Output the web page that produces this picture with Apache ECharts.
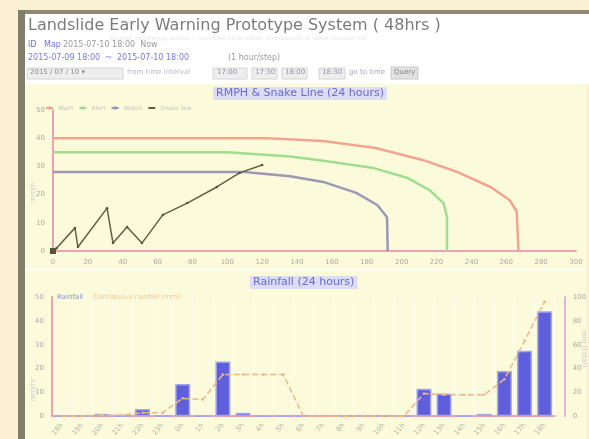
<!DOCTYPE html>
<html>
<head>
<meta charset="utf-8">
<script src="https://cdn.jsdelivr.net/npm/echarts@6/dist/echarts.min.js"></script>
<style>
html,body{margin:0;padding:0;background:#fbf0d4;}
#c{width:589px;height:439px;}
</style>
</head>
<body>
<div id="c"></div>
<script>
// Critical lines: [effective rainfall (mm), rainfall index (mm/h)]
const warnLine    = [[0,40],[123,40],[155,39],[185,36.5],[212,32.3],[232,28],[251,22.7],[262,18],[266,14],[267,0]];
const cautionLine = [[0,35],[100,35],[136,33.5],[155,32],[184,29.4],[203,26],[216,21.6],[224,17],[226,12],[226,0]];
const watchLine   = [[0,28],[110,28],[136,26.5],[155,24.5],[174,20.6],[186,16.3],[191.6,12],[192,0]];
// Snake line for the last 24 hours
const snakeLine = [[0,0],[2,1],[12.6,8.2],[14.3,1.4],[31,15.2],[34.4,2.8],[42.5,8.5],[51,2.8],[63,12.8],[77,17],[94,22.7],[107,27.7],[120,30.5]];

// Hourly rainfall (mm) and continuous rainfall (mm)
const hours = ['18h','19h','20h','21h','22h','23h','0h','1h','2h','3h','4h','5h','6h','7h','8h','9h','10h','11h','12h','13h','14h','15h','16h','17h','18h'];
const hourlyRain = [0,0,1,0,3,0,13.5,0,23,1.5,0,0,0,0,0,0,0,0,11.5,9.5,0,1,19,27.5,44];
const continuousRain = [0,0,1,1,3,3,15,14,35,35,35,35,0,0,0,0,0,0,19,18,18,18,31,63,96];

const snakeTicks = {xMax:300, xStep:20, yMax:50, yStep:10};

const axisPink = '#eaa2b4';
const tickText = {color:'#a9a9a0', fontSize:7, fontFamily:'DejaVu Sans'};

const chart = echarts.init(document.getElementById('c'), null, {renderer:'canvas'});

const g = [];
// page chrome
g.push({type:'rect', z:-20, shape:{x:0,y:0,width:589,height:439}, style:{fill:'#fbf0d4'}});
g.push({type:'rect', z:-19, shape:{x:18,y:10,width:571,height:4}, style:{fill:'#8c8872'}});
g.push({type:'rect', z:-19, shape:{x:18,y:10,width:7,height:429}, style:{fill:'#7f7e6a'}});
g.push({type:'rect', z:-19, shape:{x:25,y:14,width:564,height:70}, style:{fill:'#ffffff'}});
g.push({type:'rect', z:-19, shape:{x:25,y:84,width:561,height:184}, style:{fill:'#fbfbdc'}});
g.push({type:'rect', z:-19, shape:{x:25,y:268,width:561,height:3}, style:{fill:'#fdfdf0'}});
g.push({type:'rect', z:-19, shape:{x:25,y:271,width:561,height:168}, style:{fill:'#fbfbdc'}});

// header texts
g.push({type:'text', left:28, top:18, style:{text:'Landslide Early Warning Prototype System ( 48hrs )', fill:'#7c7c7c', font:'16px "DejaVu Sans"'}});
g.push({type:'text', left:110, top:35, style:{text:'Rainfall monitoring station  ·  real-time observation and forecast of slope disaster risk', fill:'#e6e6e6', font:'6px "DejaVu Sans"'}});
g.push({type:'text', left:28, top:41, style:{text:'ID', fill:'#7070e0', font:'8px "DejaVu Sans"'}});
g.push({type:'text', left:44, top:41, style:{text:'Map', fill:'#7070e0', font:'8px "DejaVu Sans"'}});
g.push({type:'text', left:63, top:41, style:{text:'2015-07-10 18:00  Now', fill:'#9a9a9a', font:'8px "DejaVu Sans"'}});
g.push({type:'text', left:28, top:54, style:{text:'2015-07-09 18:00  ~  2015-07-10 18:00', fill:'#7878e0', font:'8px "DejaVu Sans"'}});
g.push({type:'text', left:228, top:54, style:{text:'(1 hour/step)', fill:'#9a9a9a', font:'8px "DejaVu Sans"'}});
// query form row
g.push({type:'rect', shape:{x:27,y:68,width:96,height:11}, style:{fill:'#eeeeee', stroke:'#d4d4d4'}});
g.push({type:'text', left:30, top:69, style:{text:'2015 / 07 / 10 ▾', fill:'#8c8c8c', font:'7px "DejaVu Sans"'}});
g.push({type:'text', left:127, top:69, style:{text:'from time interval', fill:'#b8b8c8', font:'7px "DejaVu Sans"'}});
g.push({type:'rect', shape:{x:213,y:68,width:34,height:11}, style:{fill:'#eeeeee', stroke:'#d4d4d4'}});
g.push({type:'text', left:217, top:69, style:{text:'17:00', fill:'#9090b0', font:'7px "DejaVu Sans"'}});
g.push({type:'rect', shape:{x:252,y:68,width:25,height:11}, style:{fill:'#eeeeee', stroke:'#d4d4d4'}});
g.push({type:'text', left:255, top:69, style:{text:'17:30', fill:'#9090b0', font:'7px "DejaVu Sans"'}});
g.push({type:'rect', shape:{x:282,y:68,width:25,height:11}, style:{fill:'#eeeeee', stroke:'#d4d4d4'}});
g.push({type:'text', left:285, top:69, style:{text:'18:00', fill:'#9090b0', font:'7px "DejaVu Sans"'}});
g.push({type:'rect', shape:{x:319,y:68,width:26,height:11}, style:{fill:'#eeeeee', stroke:'#d4d4d4'}});
g.push({type:'text', left:322, top:69, style:{text:'18:30', fill:'#9090b0', font:'7px "DejaVu Sans"'}});
g.push({type:'text', left:349, top:69, style:{text:'go to time', fill:'#a8a8b8', font:'7px "DejaVu Sans"'}});
g.push({type:'rect', shape:{x:391,y:67,width:27,height:12}, style:{fill:'#e2e2e2', stroke:'#c8c8c8'}});
g.push({type:'text', left:394, top:69, style:{text:'Query', fill:'#808080', font:'7px "DejaVu Sans"'}});
// axis names
g.push({type:'text', left:30, top:182, rotation:Math.PI/2, style:{text:'mm/h', fill:'#c8c8d0', font:'7px "DejaVu Sans"'}});
g.push({type:'text', left:30, top:378, rotation:Math.PI/2, style:{text:'mm/hr', fill:'#c8c8d0', font:'7px "DejaVu Sans"'}});
g.push({type:'text', left:580, top:330, rotation:-Math.PI/2, style:{text:'mm (total)', fill:'#c8c8d0', font:'7px "DejaVu Sans"'}});

const titleText = {color:'#6a6ad0', fontSize:11, fontWeight:'normal', fontFamily:'DejaVu Sans'};

const option = {
  animation:false,
  backgroundColor:'transparent',
  graphic:g,
  title:[
    {text:'RMPH & Snake Line (24 hours)', left:213, top:87, padding:[1,3],
     backgroundColor:'#dcdcf2', textStyle:titleText},
    {text:'Rainfall (24 hours)', left:250, top:276, padding:[1,3],
     backgroundColor:'#dcdcf2', textStyle:titleText}
  ],
  legend:[
    {left:40, top:100, itemWidth:7, itemHeight:2, itemGap:5,
     textStyle:{color:'#c4c4bc', fontSize:6, fontFamily:'DejaVu Sans'},
     data:['Warn','Alert','Watch','Snake line']},
    {left:46, top:289, itemWidth:0, itemHeight:0, itemGap:4,
     textStyle:{fontSize:7, fontFamily:'DejaVu Sans'},
     data:[{name:'Rainfall', textStyle:{color:'#8a8ad8'}},
           {name:'Continuous rainfall (mm)', textStyle:{color:'#f2c898'}}]}
  ],
  grid:[
    {left:53, right:13, top:110, height:141},
    {left:52, right:32, top:297, height:125}
  ],
  xAxis:[
    {gridIndex:0, type:'value', min:0, max:snakeTicks.xMax, interval:snakeTicks.xStep,
     axisLine:{lineStyle:{color:axisPink, width:2}}, axisTick:{show:false},
     axisLabel:tickText, splitLine:{show:false}},
    {gridIndex:1, type:'category', data:hours, boundaryGap:true,
     axisLine:{lineStyle:{color:axisPink, width:2}}, axisTick:{show:false},
     axisLabel:Object.assign({}, tickText, {rotate:50, interval:0, color:'#b0b4a0'}),
     splitLine:{show:true, lineStyle:{color:'#fdfdee', width:1}}}
  ],
  yAxis:[
    {gridIndex:0, type:'value', min:0, max:snakeTicks.yMax, interval:snakeTicks.yStep,
     axisLine:{show:true, lineStyle:{color:axisPink, width:2}}, axisTick:{show:false},
     axisLabel:tickText, splitLine:{show:false}},
    {gridIndex:1, type:'value', min:0, max:50, interval:10,
     axisLine:{show:true, lineStyle:{color:axisPink, width:2}}, axisTick:{show:false},
     axisLabel:tickText, splitLine:{show:false}},
    {gridIndex:1, type:'value', min:0, max:100, interval:20, position:'right', offset:10,
     axisLine:{show:true, lineStyle:{color:'#eab0d8', width:2}}, axisTick:{show:false},
     axisLabel:tickText, splitLine:{show:false}}
  ],
  series:[
    {name:'Warn', type:'line', xAxisIndex:0, yAxisIndex:0, data:warnLine, showSymbol:false,
     lineStyle:{color:'#f2a48e', width:2.5}, itemStyle:{color:'#f2a48e'}},
    {name:'Alert', type:'line', xAxisIndex:0, yAxisIndex:0, data:cautionLine, showSymbol:false,
     lineStyle:{color:'#9ede8e', width:2.5}, itemStyle:{color:'#9ede8e'}},
    {name:'Watch', type:'line', xAxisIndex:0, yAxisIndex:0, data:watchLine, showSymbol:false,
     lineStyle:{color:'#9a98b6', width:2.5}, itemStyle:{color:'#9a98b6'}},
    {name:'Snake line', type:'line', xAxisIndex:0, yAxisIndex:0, data:snakeLine.map((p,i)=> i===0 ? {value:p, symbol:'rect', symbolSize:6} : p),
     symbol:'circle', symbolSize:2.5, lineStyle:{color:'#606048', width:1.5}, itemStyle:{color:'#55553c'}},
    {name:'Rainfall', type:'bar', xAxisIndex:1, yAxisIndex:1, data:hourlyRain, barWidth:15,
     itemStyle:{color:'#5f5fdc', borderColor:'#a4a4f0', borderWidth:1.5}},
    {name:'Continuous rainfall (mm)', type:'line', xAxisIndex:1, yAxisIndex:2, data:continuousRain,
     symbol:'circle', symbolSize:2.5, lineStyle:{color:'#f0b48a', width:1.5, type:'dashed'}, itemStyle:{color:'#f0b48a'}}
  ]
};
chart.setOption(option);
</script>
</body>
</html>
